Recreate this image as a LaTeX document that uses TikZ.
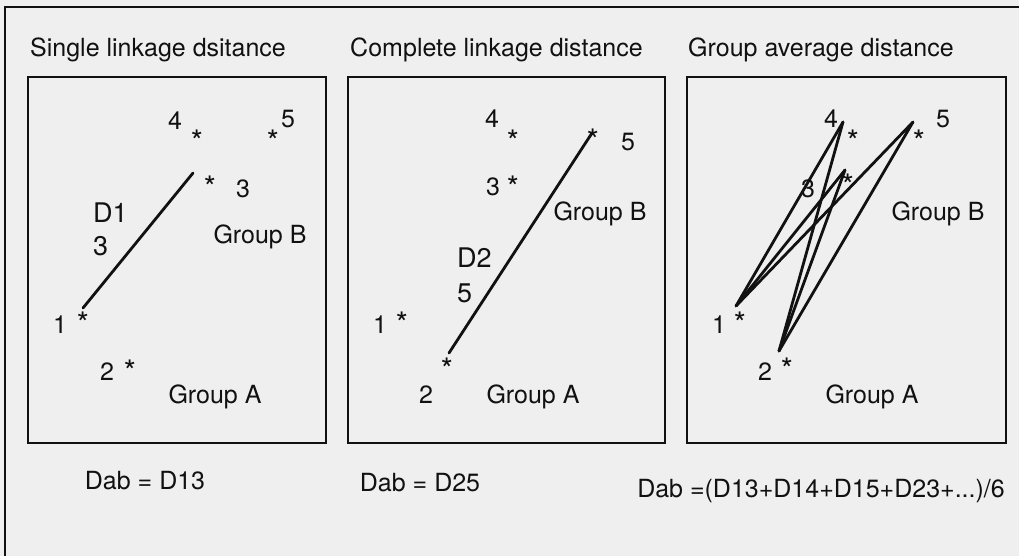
\documentclass[tikz,border=0pt]{standalone}
\usepackage{fontspec}
\setmainfont{TeX Gyre Heros}
\usetikzlibrary{calc}
\definecolor{grund}{HTML}{EFEFEF}
\definecolor{tinte}{HTML}{111111}
\newcommand{\lab}{\fontsize{25}{30}\selectfont}
\newcommand{\gross}{\fontsize{27}{32}\selectfont}
\newcommand{\sterngr}{\fontsize{31}{36}\selectfont}
\newcommand{\sternchen}{\raisebox{-.575em}[.145em][.145em]{*}}
\tikzset{
  rahmen/.style={tinte,line width=2.2pt},
  kasten/.style={draw=tinte,line width=2pt},
  verb/.style={tinte,line width=2.8pt,line cap=round},
  txt/.style={inner sep=0pt,font=\lab,text=tinte,text height=18pt,text depth=0pt},
  stern/.style={inner sep=0pt,font=\sterngr,text=tinte},
}

\begin{document}
\begin{tikzpicture}[x=1pt,y=-1pt]
  \fill[grund] (0,0) rectangle (1019,556);
  \useasboundingbox (0,0) rectangle (1019,556);
  \draw[rahmen] (5,556) -- (5,7) -- (1019,7);

  % single linkage
  \node[txt,anchor=west] (t1) at (30,48) {Single linkage dsitance};
  \draw[kasten] (28,77) rectangle (326,443);
  \node[txt] (b14) at (175,121) {4};
  \node[stern] (a14) at (197,135) {\sternchen};
  \node[txt] (b15) at (288,119) {5};
  \node[stern] (a15) at (273,135) {\sternchen};
  \node[stern] (a13) at (210,181) {\sternchen};
  \node[txt] (b13) at (243,188) {3};
  \node[stern] (a11) at (83,317) {\sternchen};
  \node[txt] (b11) at (60,324) {1};
  \node[stern] (a12) at (130,365) {\sternchen};
  \node[txt] (b12) at (107,371) {2};
  \node[txt,font=\gross,anchor=west] (d1) at (93,213) {D1};
  \node[txt,font=\gross,anchor=west] (d1b) at (93,246) {3};
  \node[txt] (gb1) at (260,234) {Group B};
  \node[txt] (ga1) at (215,394) {Group A};
  \node[txt] (f1) at (145,480) {Dab = D13};
  \draw[verb] ($(a11)+(0,-9)$) -- ($(a13)+(-17,-8)$);

  % complete linkage
  \node[txt,anchor=west] (t2) at (350,48) {Complete linkage distance};
  \draw[kasten] (348,77) rectangle (665,443);
  \node[txt] (b24) at (492,119) {4};
  \node[stern] (a24) at (513,135) {\sternchen};
  \node[stern] (a25) at (593,134) {\sternchen};
  \node[txt] (b25) at (628,142) {5};
  \node[txt] (b23) at (493,186) {3};
  \node[stern] (a23) at (513,181) {\sternchen};
  \node[stern] (a21) at (402,317) {\sternchen};
  \node[txt] (b21) at (380,324) {1};
  \node[stern] (a22) at (447,363) {\sternchen};
  \node[txt] (b22) at (426,394) {2};
  \node[txt,font=\gross,anchor=west] (d2) at (457,258) {D2};
  \node[txt,font=\gross,anchor=west] (d2b) at (457,293) {5};
  \node[txt] (gb2) at (600,211) {Group B};
  \node[txt] (ga2) at (533,394) {Group A};
  \node[txt] (f2) at (420,482) {Dab = D25};
  \draw[verb] ($(a22)+(2,-10)$) -- ($(a25)+(-1,-1)$);

  % group average
  \node[txt,anchor=west] (t3) at (688,48) {Group average distance};
  \draw[kasten] (687,77) rectangle (1006,443);
  \node[txt] (b34) at (831,119) {4};
  \node[stern] (a34) at (853,135) {\sternchen};
  \node[txt] (b35) at (943,119) {5};
  \node[stern] (a35) at (919,135) {\sternchen};
  \node[txt] (b33) at (808,188) {3};
  \node[stern] (a33) at (848,179) {\sternchen};
  \node[stern] (a31) at (740,317) {\sternchen};
  \node[txt] (b31) at (719,324) {1};
  \node[stern] (a32) at (787,363) {\sternchen};
  \node[txt] (b32) at (765,371) {2};
  \node[txt] (gb3) at (938,211) {Group B};
  \node[txt] (ga3) at (872,394) {Group A};
  \node[txt,anchor=east] (f3) at (1005,488) {Dab =(D13+D14+D15+D23+...)/6};
  \coordinate (e31) at ($(a31)+(-4,-11)$);
  \coordinate (e32) at ($(a32)+(-8,-12)$);
  \coordinate (e33) at ($(a33)+(-3,-9)$);
  \coordinate (e34) at ($(a34)+(-10,-13)$);
  \coordinate (e35) at ($(a35)+(-6,-13)$);
  \foreach \a in {1,2}
    \foreach \b in {3,4,5}
      \draw[verb] (e3\a) -- (e3\b);
\end{tikzpicture}
\end{document}
